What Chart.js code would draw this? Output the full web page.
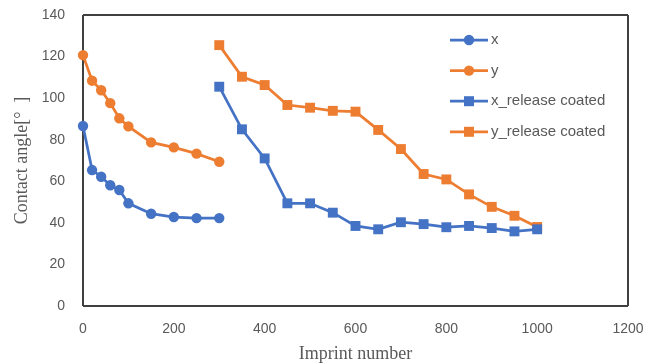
<!DOCTYPE html>
<html>
<head>
<meta charset="utf-8">
<script src="https://cdn.jsdelivr.net/npm/chart.js"></script>
<style>
  html, body { margin: 0; padding: 0; background: #fff; }
  #wrap { width: 645px; height: 363px; position: relative; }
</style>
</head>
<body>
<div id="wrap"><canvas id="chart"></canvas></div>
<script>
// ── data ─────────────────────────────────────────────────────────────────────
const imprintsBare = [0, 20, 40, 60, 80, 100, 150, 200, 250, 300];
const xBare = [86.6, 65.4, 62.2, 58.1, 55.8, 49.4, 44.4, 42.8, 42.3, 42.3];
const yBare = [120.7, 108.4, 103.8, 97.6, 90.3, 86.4, 78.7, 76.3, 73.3, 69.4];

const imprintsCoated = [300, 350, 400, 450, 500, 550, 600, 650, 700, 750, 800, 850, 900, 950, 1000];
const xCoated = [105.5, 85, 71, 49.4, 49.4, 44.9, 38.5, 36.9, 40.3, 39.4, 37.9, 38.5, 37.5, 35.9, 36.9];
const yCoated = [125.5, 110.3, 106.3, 96.7, 95.4, 93.9, 93.5, 84.7, 75.5, 63.5, 60.9, 53.7, 47.7, 43.4, 38];

const seriesNames = ['x', 'y', 'x_release coated', 'y_release coated'];

const BLUE = '#4472C4';
const ORANGE = '#ED7D31';
const GREY = '#595959';
const FRAME = '#404040';

const pts = (xs, ys) => xs.map((v, i) => ({ x: v, y: ys[i] }));

function series(label, data, color, style) {
    return {
        label,
        data,
        borderColor: color,
        backgroundColor: color,
        borderWidth: 2.75,
        pointStyle: style,
        pointRadius: style === 'rect' ? 7 : 5.2,
        pointBorderWidth: 0,
        pointHoverRadius: style === 'rect' ? 7 : 5.2,
        tension: 0,
        clip: false
    };
}

// legend drawn inside the plot, line + marker like the spreadsheet legend
const insideLegend = {
    id: 'insideLegend',
    afterDraw(chart) {
        const ctx = chart.ctx;
        const x0 = 450, x1 = 488, rowTop = 40, rowGap = 30.6;
        ctx.save();
        chart.data.datasets.forEach((ds, i) => {
            const y = rowTop + i * rowGap;
            ctx.strokeStyle = ds.borderColor;
            ctx.lineWidth = 2.75;
            ctx.beginPath();
            ctx.moveTo(x0, y);
            ctx.lineTo(x1, y);
            ctx.stroke();
            ctx.fillStyle = ds.backgroundColor;
            const cx = (x0 + x1) / 2;
            ctx.beginPath();
            if (ds.pointStyle === 'rect') {
                ctx.rect(cx - 5, y - 5, 10, 10);
            } else {
                ctx.arc(cx, y, 5.2, 0, Math.PI * 2);
            }
            ctx.fill();
            ctx.fillStyle = GREY;
            ctx.font = '15px "Liberation Sans", Arial, sans-serif';
            ctx.textBaseline = 'middle';
            ctx.textAlign = 'left';
            ctx.fillText(ds.label, x1 + 3, y);
        });
        ctx.restore();
    }
};

// only the outer grid lines are kept, giving the framed plot box
const edgeOnly = (ctx) => {
    const n = ctx.scale.ticks.length - 1;
    return (ctx.index === 0 || ctx.index === n) ? FRAME : 'rgba(0,0,0,0)';
};

// no label overflow padding, the plot box is pinned by layout padding
const noOverflow = (s) => {
    s.paddingTop = 0;
    s.paddingBottom = 0;
    s.paddingLeft = 0;
    s.paddingRight = 0;
};

new Chart(document.getElementById('chart'), {
    type: 'line',
    data: {
        datasets: [
            series(seriesNames[0], pts(imprintsBare, xBare), BLUE, 'circle'),
            series(seriesNames[1], pts(imprintsBare, yBare), ORANGE, 'circle'),
            series(seriesNames[2], pts(imprintsCoated, xCoated), BLUE, 'rect'),
            series(seriesNames[3], pts(imprintsCoated, yCoated), ORANGE, 'rect')
        ]
    },
    options: {
        responsive: true,
        maintainAspectRatio: false,
        animation: false,
        layout: { padding: { top: 15, right: 17, bottom: 0, left: 0 } },
        plugins: {
            legend: { display: false },
            tooltip: { enabled: false }
        },
        scales: {
            x: {
                type: 'linear',
                min: 0,
                max: 1200,
                afterFit: (s) => { s.height = 57; noOverflow(s); },
                ticks: {
                    stepSize: 200,
                    padding: 15,
                    color: GREY,
                    font: { family: '"Liberation Sans", Arial, sans-serif', size: 14 },
                    maxRotation: 0,
                    callback: (v) => String(v)
                },
                grid: { drawTicks: false, color: edgeOnly, lineWidth: 2 },
                border: { display: false },
                title: {
                    display: true,
                    text: 'Imprint number',
                    color: GREY,
                    padding: 0,
                    font: { family: '"Liberation Serif", "Times New Roman", serif', size: 18, lineHeight: 1 }
                }
            },
            y: {
                min: 0,
                max: 140,
                afterFit: (s) => { s.width = 83; noOverflow(s); },
                ticks: {
                    stepSize: 20,
                    padding: 18,
                    color: GREY,
                    font: { family: '"Liberation Sans", Arial, sans-serif', size: 14 },
                    callback: (v) => String(v)
                },
                grid: { drawTicks: false, color: edgeOnly, lineWidth: 2 },
                border: { display: false },
                title: {
                    display: true,
                    text: 'Contact angle[°  ]',
                    color: GREY,
                    padding: { top: 13, bottom: 0 },
                    font: { family: '"Liberation Serif", "Times New Roman", serif', size: 18, lineHeight: 1 }
                }
            }
        }
    },
    plugins: [insideLegend]
});
</script>
</body>
</html>
